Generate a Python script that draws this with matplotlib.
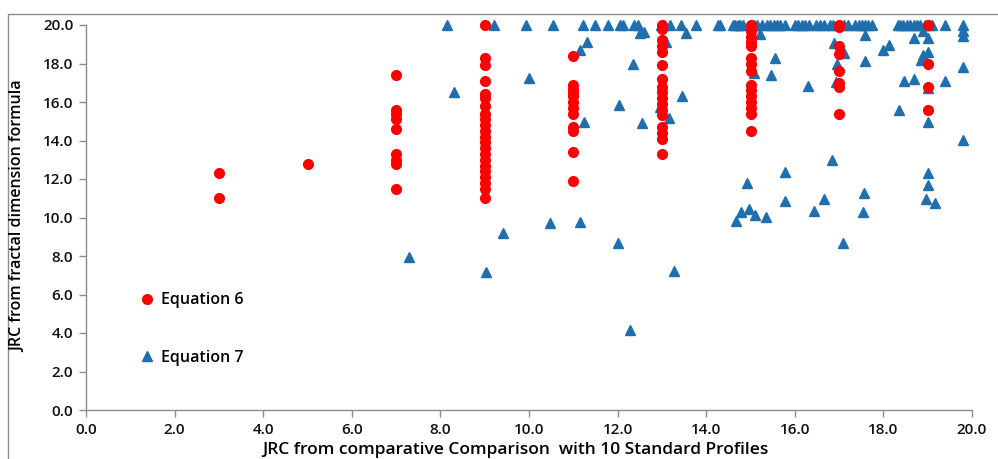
import matplotlib
matplotlib.use("Agg")
import matplotlib.pyplot as plt
from matplotlib.patches import Rectangle

plt.rcParams['font.family'] = ['Open Sans', 'DejaVu Sans']

# Equation 6 (red circles): JRC columns and fractal values
eq6_x = ([3] * 2 + [5] * 1 + [7] * 9 + [9] * 22 + [11] * 12 + [13] * 17
         + [15] * 15 + [17] * 8 + [19] * 4)
eq6_y = [12.3, 11.0,
         12.8,
         17.4, 15.6, 15.4, 15.1, 14.6, 13.3, 13.0, 12.8, 11.5,
         20.0, 18.3, 17.9, 17.1, 16.4, 16.2, 15.8, 15.4, 15.1, 14.8, 14.5,
         14.2, 13.9, 13.6, 13.3, 13.0, 12.7, 12.4, 12.1, 11.8, 11.5, 11.0,
         18.4, 16.9, 16.7, 16.5, 16.3, 16.0, 15.7, 15.4, 14.7, 14.5, 13.4, 11.9,
         20.0, 19.8, 19.2, 18.9, 18.6, 17.9, 17.2, 16.8, 16.5, 16.2, 15.9,
         15.6, 15.3, 14.7, 14.4, 14.1, 13.3,
         20.0, 19.7, 19.4, 19.1, 18.9, 18.3, 18.0, 17.6, 16.9, 16.6, 16.3,
         16.0, 15.7, 15.4, 14.5,
         20.0, 19.9, 18.9, 18.5, 17.6, 17.0, 16.8, 15.4,
         20.0, 18.0, 16.8, 15.6]

# Equation 7 (blue triangles): points capped at 20
eq7_top_x = [8.14, 9.22, 9.94, 10.55, 11.21, 11.50, 11.78, 12.05, 12.12, 12.37,
             12.45, 12.97, 13.04, 13.18, 13.44, 13.77, 14.26, 14.32, 14.60,
             14.66, 14.71, 14.77, 14.84, 15.07, 15.15, 15.26, 15.37, 15.45,
             15.52, 15.60, 15.67, 15.78, 16.01, 16.08, 16.16, 16.23, 16.31,
             16.48, 16.57, 16.65, 16.80, 16.87, 17.10, 17.19, 17.36, 17.44,
             17.51, 17.59, 17.66, 17.74, 18.32, 18.38, 18.45, 18.53, 18.60,
             18.68, 18.75, 18.83, 18.94, 19.02, 19.09, 19.39, 19.80]
eq7_top_y = [20.0] * len(eq7_top_x)

# Equation 7: remaining points
eq7_x = [11.30, 11.16, 9.99, 8.30, 11.25, 10.48, 11.16, 9.42, 7.28, 9.04,
         12.50, 12.60, 13.55, 13.10, 15.22, 15.56, 15.08, 15.46, 12.34, 12.03,
         13.45, 12.96, 13.15, 12.55, 15.78, 14.93, 14.78, 14.96, 15.10, 14.68,
         15.35, 15.78, 12.00, 13.27, 12.29,
         19.80, 19.80, 18.90, 17.59, 18.69, 19.01, 16.89, 18.00, 18.13, 17.12,
         16.96, 17.58, 19.00, 18.90, 18.86, 19.80, 16.29, 16.93, 18.47, 18.69,
         19.39, 19.00, 18.36, 19.00, 19.80, 16.85, 19.00, 19.00, 17.56, 16.65,
         18.96, 19.17, 16.44, 17.53, 17.08]
eq7_y = [19.1, 18.7, 17.25, 16.5, 14.96, 9.7, 9.77, 9.2, 7.95, 7.17,
         19.6, 19.65, 19.6, 19.1, 19.53, 18.27, 17.5, 17.4, 17.96, 15.84,
         16.33, 15.76, 15.15, 14.9, 12.38, 11.78, 10.27, 10.42, 10.13, 9.82,
         10.04, 10.86, 8.66, 7.24, 4.16,
         19.7, 19.43, 19.7, 19.5, 19.3, 19.3, 19.05, 18.7, 18.96, 18.53,
         18.0, 18.15, 18.6, 18.44, 18.2, 17.83, 16.83, 17.05, 17.1, 17.22,
         17.1, 16.74, 15.58, 14.98, 14.03, 12.99, 12.3, 11.69, 11.29, 10.96,
         10.95, 10.74, 10.34, 10.29, 8.66]

W, H = 998, 459
fig = plt.figure(figsize=(W / 100, H / 100), dpi=100)
ax = fig.add_axes([86 / W, (H - 410) / H, (972 - 86) / W, (410 - 25) / H])

blue = '#1f6fae'
red = '#ff0000'
ax.plot(eq7_top_x + eq7_x, eq7_top_y + eq7_y, linestyle='none', marker='^',
        ms=7.5, color=blue, mec=blue, label='Equation 7', zorder=2, clip_on=False)
ax.plot(eq6_x, eq6_y, linestyle='none', marker='o', ms=7, color=red,
        mec=red, label='Equation 6', zorder=3, clip_on=False)

ax.set_xlim(0, 20)
ax.set_ylim(0, 20)
ticks = [i * 2.0 for i in range(11)]
ax.set_xticks(ticks)
ax.set_yticks(ticks)
ax.set_xticklabels([f'{t:.1f}' for t in ticks])
ax.set_yticklabels([f'{t:.1f}' for t in ticks])

for s in ['top', 'right']:
    ax.spines[s].set_visible(False)
for s in ['left', 'bottom']:
    ax.spines[s].set_color('#8c8c8c')
    ax.spines[s].set_linewidth(1.0)
ax.tick_params(axis='both', direction='out', length=5, width=1, color='#8c8c8c',
               labelsize=11, labelcolor='#111111')
ax.tick_params(axis='x', pad=4)
ax.tick_params(axis='y', pad=4)
for lbl in ax.get_xticklabels() + ax.get_yticklabels():
    lbl.set_fontweight('semibold')

# legend, reversed order
h, l = ax.get_legend_handles_labels()
leg = fig.legend(h[::-1], l[::-1], loc='center left',
                 bbox_to_anchor=(139 / W, (H - 329) / H), frameon=False,
                 labelspacing=2.6, handlelength=1.0, handletextpad=0.4,
                 borderpad=0, borderaxespad=0, prop={'size': 11.5, 'weight': 'semibold'})

fig.text(18 / W, (H - 216) / H, 'JRC from fractal dimension formula', rotation=90,
         ha='center', va='center', fontsize=11.5, fontweight='semibold')
fig.text(515 / W, 1 / H, 'JRC from comparative Comparison  with 10 Standard Profiles',
         ha='center', va='bottom', fontsize=12.5, fontweight='semibold')

# chart-area border (top and left visible)
fig.patches.append(Rectangle((8 / W, -0.1), 1.2, (H - 14) / H + 0.1,
                             transform=fig.transFigure, fill=False,
                             edgecolor='#8c8c8c', linewidth=1.0))

fig.savefig('out.png', dpi=100)
